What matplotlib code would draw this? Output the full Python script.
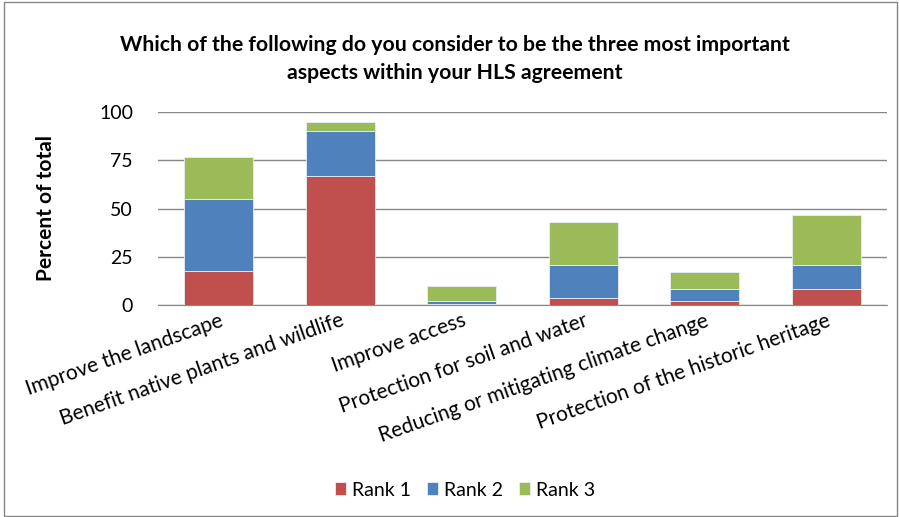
import numpy as np
import matplotlib.pyplot as plt
from matplotlib.patches import Rectangle

plt.rcParams['font.family'] = ['Lato', 'DejaVu Sans']

categories = ['Improve the landscape', 'Benefit native plants and wildlife',
              'Improve access', 'Protection for soil and water',
              'Reducing or mitigating climate change',
              'Protection of the historic heritage']
rank1 = [17.5, 67, 0.3, 3.6, 1.9, 8.5]
rank2 = [37.5, 23, 1.7, 17.3, 6.2, 12.4]
rank3 = [22, 5, 7.8, 21.9, 8.8, 25.7]
series_names = ['Rank 1', 'Rank 2', 'Rank 3']
colors = ['#C0504D', '#4F81BD', '#9BBB59']

fig = plt.figure(figsize=(8.99, 5.17), dpi=100)
ax = fig.add_axes([0.1758, 0.41, 0.811, 0.373])

x = np.arange(len(categories))
bottom = np.zeros(len(categories))
for vals, name, c in zip([rank1, rank2, rank3], series_names, colors):
    ax.bar(x, vals, 0.57, bottom=bottom, color=c, label=name,
           edgecolor='#e8eef5', linewidth=0.6, zorder=3)
    bottom += np.array(vals)

ax.set_xlim(-0.5, len(categories) - 0.5)
ax.set_ylim(0, 100)
ax.set_yticks([0, 25, 50, 75, 100])
ax.yaxis.grid(True, color='#868686', linewidth=1, zorder=0)
for s in ['top', 'right', 'left']:
    ax.spines[s].set_visible(False)
ax.spines['bottom'].set_color('#868686')
ax.tick_params(axis='y', length=0, labelsize=14, pad=18)
ax.tick_params(axis='x', length=0, labelsize=15, pad=4)
ax.set_xticks(x)
ax.set_xticklabels(categories, rotation=19.5, ha='right', rotation_mode='anchor')
ax.set_ylabel('Percent of total', fontsize=15, fontweight='bold')
ax.yaxis.set_label_coords(56 / 899, (517 - 208) / 517, transform=fig.transFigure)

fig.text(0.506, 1 - 59 / 517, 'Which of the following do you consider to be the three most important\naspects within your HLS agreement',
         ha='center', va='center', fontsize=15.3, fontweight='bold', linespacing=1.45)

ax.legend(loc='center', bbox_to_anchor=(465 / 899, 1 - 490 / 517), bbox_transform=fig.transFigure,
          ncol=3, frameon=False, fontsize=14, handlelength=0.6, handleheight=0.6,
          handletextpad=0.3, columnspacing=0.8)

fig.patches.append(Rectangle((0.004, 0.002), 0.994, 0.994, transform=fig.transFigure,
                             fill=False, edgecolor='#868686', linewidth=1))

fig.savefig('out.png', dpi=100)
